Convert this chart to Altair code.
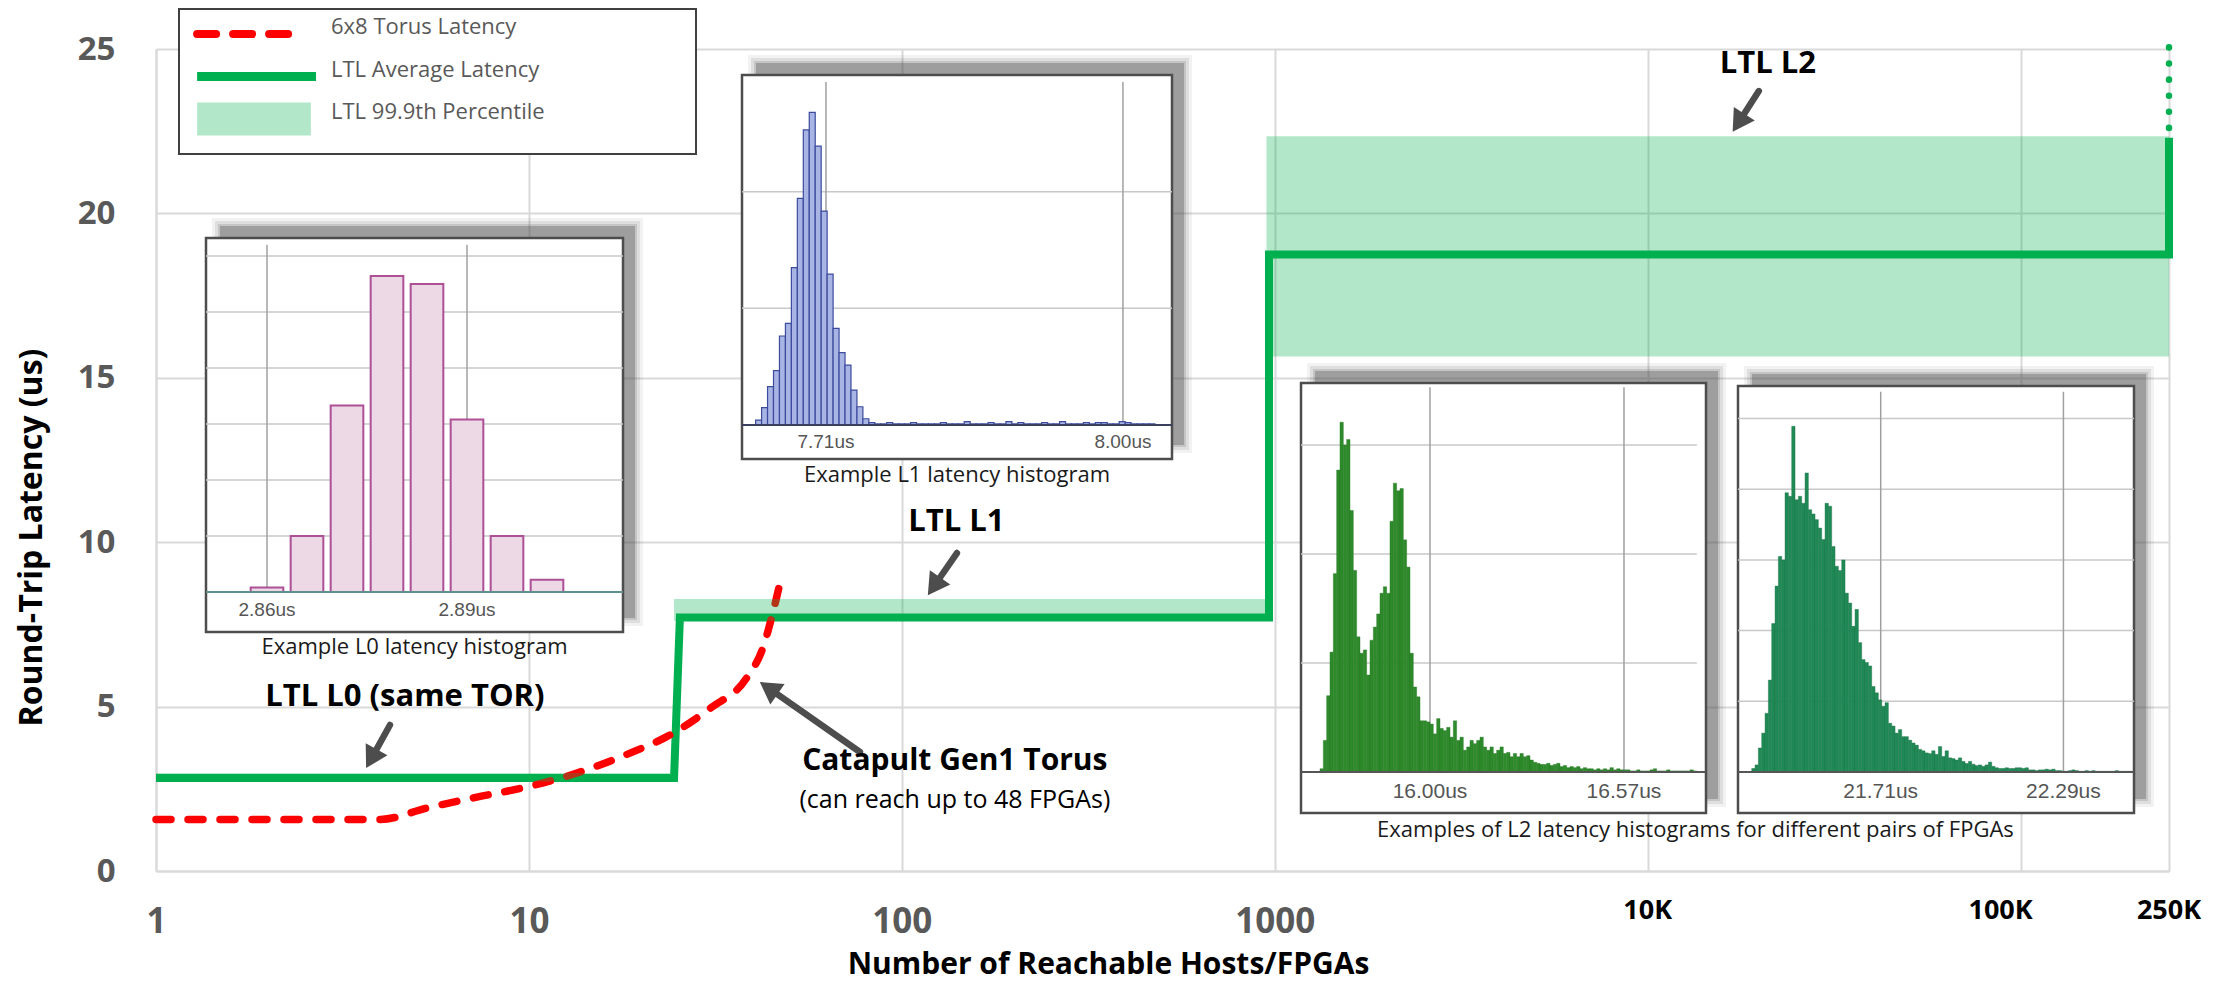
import math
import altair as alt
import pandas as pd

FONT = "Open Sans"
INSET_FONT = "Liberation Sans"
AXIS_GRAY = "#595959"
GRID = "#D9D9D9"
GREEN = "#00B050"
RED = "#FF0000"
ARROW_GRAY = "#4D4D4D"

# ---------------- main chart data ----------------
TORUS_HOSTS = [1, 2, 3, 4, 5.3, 7.2, 10, 13.2, 18.8, 23.3, 30.9, 38.3, 42.5, 44.8, 47]
TORUS_LATENCY = [1.57, 1.57, 1.57, 1.57, 1.91, 2.24, 2.57, 2.95, 3.6, 4.07, 4.98, 5.86, 6.82, 7.73, 8.7]

LTL_HOSTS = [1, 24.5, 25.4, 965, 965, 250000, 250000]
LTL_AVG_LATENCY = [2.83, 2.83, 7.71, 7.71, 18.75, 18.75, 22.3]
LTL_EXTRA_HOSTS = [250000]
LTL_EXTRA_FROM = [25.05]
LTL_EXTRA_TO = [22.3]

TIERS = ["L0", "L1", "L2"]
TIER_HOSTS_FROM = [1, 24.5, 950]
TIER_HOSTS_TO = [24.5, 960, 250000]
P999_LOW = [2.72, 7.6, 15.65]
P999_HIGH = [2.98, 8.27, 22.35]

X_TICK_VALUES = [1, 10, 100, 1000, 10000, 100000, 250000]
Y_TICK_VALUES = [0, 5, 10, 15, 20, 25]
K_LABELS = ["10K", "100K", "250K"]
K_LABEL_HOSTS = [10000, 100000, 250000]
K_LABEL_SHIFT = [0, -20, 0]

NOTE_TEXT = ["LTL L0 (same TOR)", "LTL L1", "LTL L2", "Catapult Gen1 Torus"]
NOTE_HOSTS = [4.65, 140, 21000, 138.7]
NOTE_LATENCY = [5.29, 10.61, 24.54, 3.35]
NOTE_SIZE = [31, 31, 31, 30]
SUBNOTE_TEXT = ["(can reach up to 48 FPGAs)"]
SUBNOTE_HOSTS = [138.7]
SUBNOTE_LATENCY = [2.16]

ARROW_TAIL_HOSTS = [4.24, 140.5, 19860, 77.2]
ARROW_TAIL_LATENCY = [4.44, 9.67, 23.72, 3.62]
ARROW_TIP_HOSTS = [3.66, 117.4, 16900, 41.6]
ARROW_TIP_LATENCY = [3.13, 8.39, 22.48, 5.75]

LEGEND_LABELS = ["6x8 Torus Latency", "LTL Average Latency", "LTL 99.9th Percentile"]

# ---------------- inset histogram data ----------------
L0_BIN_CENTERS = [2.860, 2.866, 2.872, 2.878, 2.884, 2.890, 2.896, 2.902]
L0_BIN_WIDTH = 0.0049
L0_COUNTS = [0.08, 1.0, 3.33, 5.64, 5.5, 3.08, 1.0, 0.22]
L0_TICKS = [2.86, 2.89]
L0_TICK_LABELS = ["2.86us", "2.89us"]

L1_BIN_START = 7.6413
L1_BIN_WIDTH = 0.00582
L1_COUNTS = [0.043, 0.149, 0.329, 0.466, 0.763, 0.871, 1.349, 1.943, 2.529, 2.68,
             2.391, 1.834, 1.294, 0.829, 0.62, 0.514, 0.3, 0.157, 0.054,
             0.02, 0.01, 0.01, 0.02, 0.01, 0.01, 0.01, 0.02, 0.01, 0.01,
             0.01, 0.01, 0.02, 0.01, 0.01, 0.01, 0.03, 0.01, 0.01, 0.01,
             0.02, 0.01, 0.01, 0.03, 0.01, 0.02, 0.01, 0.01, 0.01, 0.02,
             0.01, 0.01, 0.03, 0.01, 0.01, 0.01, 0.02, 0.01, 0.02, 0.02,
             0.01, 0.01, 0.03, 0.02, 0.01, 0.01, 0.01, 0.01]
L1_TICKS = [7.71, 8.00]
L1_TICK_LABELS = ["7.71us", "8.00us"]

L2A_BIN_START = 15.6768
L2A_BIN_WIDTH = 0.009794
L2A_COUNTS = [0.03, 0.29, 0.7, 1.1, 1.82, 2.77, 3.21, 3.0, 3.05, 2.4,
              1.85, 1.24, 1.09, 1.12, 0.89, 1.21, 1.33, 1.45, 1.64, 1.7,
              1.64, 2.3, 2.65, 2.58, 2.6, 2.13, 1.88, 1.09, 0.78, 0.69,
              0.47, 0.47, 0.46, 0.44, 0.35, 0.49, 0.4, 0.38, 0.41, 0.32,
              0.47, 0.29, 0.32, 0.2, 0.23, 0.29, 0.26, 0.29, 0.32, 0.23,
              0.2, 0.23, 0.17, 0.2, 0.23, 0.17, 0.18, 0.14, 0.17, 0.14,
              0.17, 0.14, 0.15, 0.11, 0.09, 0.08, 0.07, 0.07, 0.08, 0.06,
              0.07, 0.08, 0.05, 0.06, 0.04, 0.05, 0.04, 0.05, 0.03, 0.04,
              0.03, 0.03, 0.02, 0.03, 0.02, 0.03, 0.02, 0.04, 0.02, 0.03,
              0.02, 0.02, 0.02, 0.01, 0.01, 0.02, 0.01, 0.01, 0.01, 0.02,
              0.03, 0.01, 0.01, 0.01, 0.02, 0.01, 0.01, 0.01, 0.01, 0.01,
              0.01, 0.02, 0.01]
L2A_TICKS = [16.00, 16.57]
L2A_TICK_LABELS = ["16.00us", "16.57us"]

L2B_BIN_START = 21.3005
L2B_BIN_WIDTH = 0.010582
L2B_COUNTS = [0.05, 0.1, 0.34, 0.55, 0.83, 1.3, 2.1, 2.63, 3.05, 3.0,
              3.95, 3.9, 4.89, 3.85, 3.9, 3.8, 4.23, 3.71, 3.65, 3.57,
              3.45, 3.29, 3.8, 3.76, 3.19, 2.91, 2.85, 3.0, 2.53, 2.39,
              2.06, 2.3, 1.83, 1.59, 1.55, 1.5, 1.21, 1.12, 1.02, 0.93,
              0.98, 0.69, 0.65, 0.55, 0.6, 0.5, 0.5, 0.45, 0.41, 0.38,
              0.32, 0.3, 0.27, 0.26, 0.3, 0.25, 0.36, 0.22, 0.3, 0.2,
              0.19, 0.17, 0.2, 0.15, 0.12, 0.15, 0.11, 0.09, 0.1, 0.08,
              0.1, 0.14, 0.08, 0.06, 0.05, 0.05, 0.06, 0.05, 0.05, 0.06,
              0.06, 0.05, 0.06, 0.03, 0.03, 0.02, 0.03, 0.03, 0.04, 0.03,
              0.04, 0.02, 0.02, 0.01, 0.01, 0.02, 0.03, 0.02, 0.01, 0.01,
              0.02, 0.01, 0.02, 0.01, 0.01, 0.01, 0.01, 0.01, 0.01, 0.02,
              0.01, 0.01, 0.01, 0.01]
L2B_TICKS = [21.71, 22.29]
L2B_TICK_LABELS = ["21.71us", "22.29us"]

L0_CAPTION = "Example L0 latency histogram"
L1_CAPTION = "Example L1 latency histogram"
L2_CAPTION = "Examples of L2 latency histograms for different pairs of FPGAs"

# ---------------- layout ----------------
W, H = 2013, 822
PX_PER_DECADE = W / math.log10(250000)
PX_PER_US = H / 25.0
ARROW_HEAD_SIZE = 620

xs_main = alt.Scale(type="log", domain=[1, 250000], nice=False)
ys_main = alt.Scale(domain=[0, 25], nice=False, zero=True)

x_axis = alt.Axis(
    values=X_TICK_VALUES,
    labelExpr="datum.value <= 1000 ? format(datum.value, 'd') : ''",
    grid=True, gridColor=GRID, gridWidth=2,
    domain=True, domainColor=GRID, domainWidth=2,
    ticks=False, tickSize=0,
    labelFont=FONT, labelFontSize=35, labelFontWeight="bold", labelColor=AXIS_GRAY,
    labelPadding=50, labelBaseline="middle", labelFlush=False, labelOverlap=False,
    title="Number of Reachable Hosts/FPGAs", titleFont=FONT, titleFontSize=30,
    titleFontWeight="bold", titleColor="black", titleX=952, titleY=93,
    titleBaseline="middle", titleAlign="center",
)
y_axis = alt.Axis(
    values=Y_TICK_VALUES,
    grid=True, gridColor=GRID, gridWidth=2,
    domain=True, domainColor=GRID, domainWidth=2,
    ticks=False, tickSize=0,
    labelFont=FONT, labelFontSize=33, labelFontWeight="bold", labelColor=AXIS_GRAY,
    labelPadding=41, labelOverlap=False,
    title="Round-Trip Latency (us)", titleFont=FONT, titleFontSize=32,
    titleFontWeight="bold", titleColor="black", titleX=-125, titleY=488,
    titleAngle=270, titleAlign="center", titleBaseline="middle",
)


def mx(field):
    return alt.X(field, scale=xs_main, axis=x_axis)


def my(field):
    return alt.Y(field, scale=ys_main, axis=y_axis)


band_df = pd.DataFrame({"tier": TIERS, "x0": TIER_HOSTS_FROM, "x1": TIER_HOSTS_TO,
                        "lo": P999_LOW, "hi": P999_HIGH})
bands = alt.Chart(band_df).mark_rect(color=GREEN, opacity=0.3).encode(
    x=mx("x0:Q"), x2="x1:Q", y=my("lo:Q"), y2="hi:Q")

step_df = pd.DataFrame({"hosts": LTL_HOSTS, "lat": LTL_AVG_LATENCY,
                        "i": list(range(len(LTL_HOSTS)))})
step = alt.Chart(step_df).mark_line(color=GREEN, strokeWidth=8, strokeJoin="miter",
                                     strokeCap="butt").encode(
    x=mx("hosts:Q"), y=my("lat:Q"), order="i:Q")

torus_df = pd.DataFrame({"hosts": TORUS_HOSTS, "lat": TORUS_LATENCY})
torus = alt.Chart(torus_df).mark_line(color=RED, strokeWidth=7.5, strokeDash=[15, 17],
                                       strokeCap="round", interpolate="monotone").encode(
    x=mx("hosts:Q"), y=my("lat:Q"))

dot_df = pd.DataFrame({"hosts": LTL_EXTRA_HOSTS, "y0": LTL_EXTRA_FROM, "y1": LTL_EXTRA_TO})
dotted = alt.Chart(dot_df).mark_rule(color=GREEN, strokeWidth=6.5, strokeDash=[0.1, 16],
                                      strokeCap="round").encode(
    x=mx("hosts:Q"), y=my("y0:Q"), y2="y1:Q")

# arrows: shaft + triangular head pointing along the shaft
h_tri = math.sqrt(3) / 2 * math.sqrt(ARROW_HEAD_SIZE) / 2
arrow_rows = []
for tx, ty, hx, hy in zip(ARROW_TAIL_HOSTS, ARROW_TAIL_LATENCY, ARROW_TIP_HOSTS, ARROW_TIP_LATENCY):
    sx0, sy0 = math.log10(tx) * PX_PER_DECADE, -ty * PX_PER_US
    sx1, sy1 = math.log10(hx) * PX_PER_DECADE, -hy * PX_PER_US
    dx, dy = sx1 - sx0, sy1 - sy0
    L = math.hypot(dx, dy)
    ux, uy = dx / L, dy / L
    cx, cy = sx1 - ux * h_tri, sy1 - uy * h_tri
    arrow_rows.append({"tx": tx, "ty": ty,
                       "cx": 10 ** (cx / PX_PER_DECADE), "cy": -cy / PX_PER_US,
                       "ang": math.degrees(math.atan2(ux, -uy)) % 360})
arrow_df = pd.DataFrame(arrow_rows)
shafts = alt.Chart(arrow_df).mark_rule(color=ARROW_GRAY, strokeWidth=6.5, strokeCap="round").encode(
    x=mx("tx:Q"), y=my("ty:Q"), x2="cx:Q", y2="cy:Q")
heads = alt.Chart(arrow_df).mark_point(shape="triangle-up", filled=True, size=ARROW_HEAD_SIZE,
                                        color=ARROW_GRAY, opacity=1).encode(
    x=mx("cx:Q"), y=my("cy:Q"), angle=alt.Angle("ang:Q", scale=None))

note_df = pd.DataFrame({"t": NOTE_TEXT, "x": NOTE_HOSTS, "y": NOTE_LATENCY, "fs": NOTE_SIZE})
notes = alt.Chart(note_df).mark_text(font=FONT, fontWeight="bold", color="black",
                                      baseline="middle", align="center").encode(
    x=mx("x:Q"), y=my("y:Q"), text="t:N", size=alt.Size("fs:Q", scale=None))
sub_df = pd.DataFrame({"t": SUBNOTE_TEXT, "x": SUBNOTE_HOSTS, "y": SUBNOTE_LATENCY})
subnote = alt.Chart(sub_df).mark_text(font=FONT, fontSize=25, color="black",
                                       baseline="middle", align="center").encode(
    x=mx("x:Q"), y=my("y:Q"), text="t:N")

k_layers = []
for lab, hx, sh in zip(K_LABELS, K_LABEL_HOSTS, K_LABEL_SHIFT):
    kdf = pd.DataFrame({"t": [lab], "x": [hx], "y": [0]})
    k_layers.append(alt.Chart(kdf).mark_text(font=FONT, fontSize=27, fontWeight="bold",
                                             color="black", baseline="middle", align="center",
                                             dx=sh, dy=40).encode(
        x=mx("x:Q"), y=my("y:Q"), text="t:N"))

main = alt.layer(step, torus, bands, dotted, shafts, heads, notes, subnote, *k_layers)


# ---------------- inset builder ----------------
def inset(bin_lo, bin_hi, counts, xdom, ydom, xr, yr, hgrid, hgrid_x1, vgrid, vgrid_top,
          tick_labels, tick_y, tick_size, bar_fill, bar_stroke, bar_sw, base_color,
          caption=None, cap_x=None, cap_y=None):
    xs = alt.Scale(domain=xdom, range=xr, nice=False, zero=False)
    ys = alt.Scale(domain=ydom, range=yr, nice=False, zero=False)

    def ix(f):
        return alt.X(f, scale=xs, axis=None)

    def iy(f):
        return alt.Y(f, scale=ys, axis=None)

    box_df = pd.DataFrame({"x0": [xdom[0]], "x1": [xdom[1]], "y0": [ydom[0]], "y1": [ydom[1]]})
    layers = []
    for e, op in [(7, 0.08), (4, 0.12), (1, 0.18), (-1, 0.35)]:
        layers.append(alt.Chart(box_df).mark_rect(
            color="#555555", opacity=op,
            xOffset=13 - e, x2Offset=13 + e, yOffset=-13 - e, y2Offset=-13 + e).encode(
            x=ix("x0:Q"), x2="x1:Q", y=iy("y1:Q"), y2="y0:Q"))
    layers.append(alt.Chart(box_df).mark_rect(fill="white", stroke="#4D4D4D", strokeWidth=2.5).encode(
        x=ix("x0:Q"), x2="x1:Q", y=iy("y1:Q"), y2="y0:Q"))
    hg = pd.DataFrame({"y": hgrid, "x0": [xdom[0]] * len(hgrid), "x1": [hgrid_x1] * len(hgrid)})
    layers.append(alt.Chart(hg).mark_rule(color="#C8C8C8", strokeWidth=1.5).encode(
        x=ix("x0:Q"), x2="x1:Q", y=iy("y:Q")))
    vg = pd.DataFrame({"x": vgrid, "y0": [0] * len(vgrid), "y1": [vgrid_top] * len(vgrid)})
    layers.append(alt.Chart(vg).mark_rule(color="#A0A0A0", strokeWidth=1.5).encode(
        x=ix("x:Q"), y=iy("y0:Q"), y2="y1:Q"))
    bars = pd.DataFrame({"x0": bin_lo, "x1": bin_hi, "c": counts, "z": [0] * len(counts)})
    layers.append(alt.Chart(bars).mark_rect(fill=bar_fill, stroke=bar_stroke, strokeWidth=bar_sw).encode(
        x=ix("x0:Q"), x2="x1:Q", y=iy("c:Q"), y2="z:Q"))
    base = pd.DataFrame({"x0": [xdom[0]], "x1": [xdom[1]], "y": [0]})
    layers.append(alt.Chart(base).mark_rule(color=base_color, strokeWidth=2).encode(
        x=ix("x0:Q"), x2="x1:Q", y=iy("y:Q")))
    tk = pd.DataFrame({"x": vgrid, "t": tick_labels, "y": [tick_y] * len(vgrid)})
    layers.append(alt.Chart(tk).mark_text(font=INSET_FONT, fontSize=tick_size, color="#555555",
                                          baseline="middle", align="center").encode(
        x=ix("x:Q"), y=iy("y:Q"), text="t:N"))
    if caption is not None:
        cp = pd.DataFrame({"x": [cap_x], "y": [cap_y], "t": [caption]})
        layers.append(alt.Chart(cp).mark_text(font=FONT, fontSize=22, color="#1A1A1A",
                                              baseline="middle", align="center").encode(
            x=ix("x:Q"), y=iy("y:Q"), text="t:N"))
    return alt.layer(*layers)


l0 = inset([c - L0_BIN_WIDTH / 2 for c in L0_BIN_CENTERS],
           [c + L0_BIN_WIDTH / 2 for c in L0_BIN_CENTERS], L0_COUNTS,
           [2.85085, 2.9134], [-0.714, 6.32], [50, 467], [583, 189],
           [1, 2, 3, 4, 5, 6], 2.9134, L0_TICKS, 6.2, L0_TICK_LABELS, -0.32, 19,
           "#EDD8E5", "#AD5096", 2, "#5F8F8F",
           L0_CAPTION, (2.85085 + 2.9134) / 2, -0.98)

l1_lo = [L1_BIN_START + i * L1_BIN_WIDTH for i in range(len(L1_COUNTS))]
l1 = inset(l1_lo, [v + L1_BIN_WIDTH for v in l1_lo], L1_COUNTS,
           [7.628, 8.0479], [-0.291, 3.0], [586, 1016], [410, 26],
           [1, 2], 8.0479, L1_TICKS, 2.94, L1_TICK_LABELS, -0.146, 19,
           "#A8B4E4", "#3C4B9C", 1.2, "#3C4060",
           L1_CAPTION, (7.628 + 8.0479) / 2, -0.43)

l2a_lo = [L2A_BIN_START + i * L2A_BIN_WIDTH for i in range(len(L2A_COUNTS))]
l2a = inset(l2a_lo, [v + L2A_BIN_WIDTH for v in l2a_lo], L2A_COUNTS,
            [15.621, 16.811], [-0.376, 3.569], [1145, 1550], [764, 334],
            [1, 2, 3], 16.784, L2A_TICKS, 3.53, L2A_TICK_LABELS, -0.183, 21,
            "#2E8B2A", "#237523", 0.4, "#555555",
            L2_CAPTION, 16.78, -0.532)

l2b_lo = [L2B_BIN_START + i * L2B_BIN_WIDTH for i in range(len(L2B_COUNTS))]
l2b = inset(l2b_lo, [v + L2B_BIN_WIDTH for v in l2b_lo], L2B_COUNTS,
            [21.257, 22.514], [-0.58, 5.46], [1582, 1978], [764, 337],
            [1, 2, 3, 4, 5], 22.514, L2B_TICKS, 5.38, L2B_TICK_LABELS, -0.283, 21,
            "#1F8A55", "#187046", 0.4, "#555555")

# ---------------- legend ----------------
leg_xs = alt.Scale(domain=[0, 1], range=[23, 540], nice=False, zero=False)
leg_box_ys = alt.Scale(domain=[0, 1], range=[105, -40], nice=False, zero=False)
leg_ys = alt.Scale(type="point", domain=LEGEND_LABELS, range=[-15, 70], padding=0)

leg_box_df = pd.DataFrame({"x0": [0], "x1": [1], "y0": [0], "y1": [1]})
legend_box = alt.Chart(leg_box_df).mark_rect(fill="white", stroke="#404040", strokeWidth=2).encode(
    x=alt.X("x0:Q", scale=leg_xs, axis=None), x2="x1:Q",
    y=alt.Y("y1:Q", scale=leg_box_ys, axis=None), y2="y0:Q")

leg_df = pd.DataFrame({"label": LEGEND_LABELS, "x0": [0.035] * 3,
                       "x1": [0.23, 0.265, 0.255], "tx": [0.294] * 3})


def leg_symbol(label, **mark):
    return alt.Chart(leg_df).transform_filter(alt.datum.label == label).mark_rule(**mark).encode(
        x=alt.X("x0:Q", scale=leg_xs, axis=None), x2="x1:Q",
        y=alt.Y("label:N", scale=leg_ys, axis=None))


leg_items = alt.layer(
    leg_symbol(LEGEND_LABELS[0], color=RED, strokeWidth=8, strokeDash=[19, 17], strokeCap="round"),
    leg_symbol(LEGEND_LABELS[1], color=GREEN, strokeWidth=9, strokeCap="butt"),
    leg_symbol(LEGEND_LABELS[2], color=GREEN, strokeWidth=33, strokeCap="butt", opacity=0.3),
    alt.Chart(leg_df).mark_text(font=FONT, fontSize=22, color=AXIS_GRAY, align="left",
                                baseline="middle", dy=-7).encode(
        x=alt.X("tx:Q", scale=leg_xs, axis=None),
        y=alt.Y("label:N", scale=leg_ys, axis=None), text="label:N"),
)

chart = alt.layer(main, l0, l1, l2a, l2b, legend_box, leg_items).resolve_scale(
    x="independent", y="independent"
).properties(
    width=W, height=H,
    padding={"left": 148, "top": 41, "right": 40, "bottom": 114},
    autosize=alt.AutoSizeParams(type="none"),
).configure_view(stroke=None)

chart.save("out.html", embed_options={"renderer": "svg", "actions": False})
